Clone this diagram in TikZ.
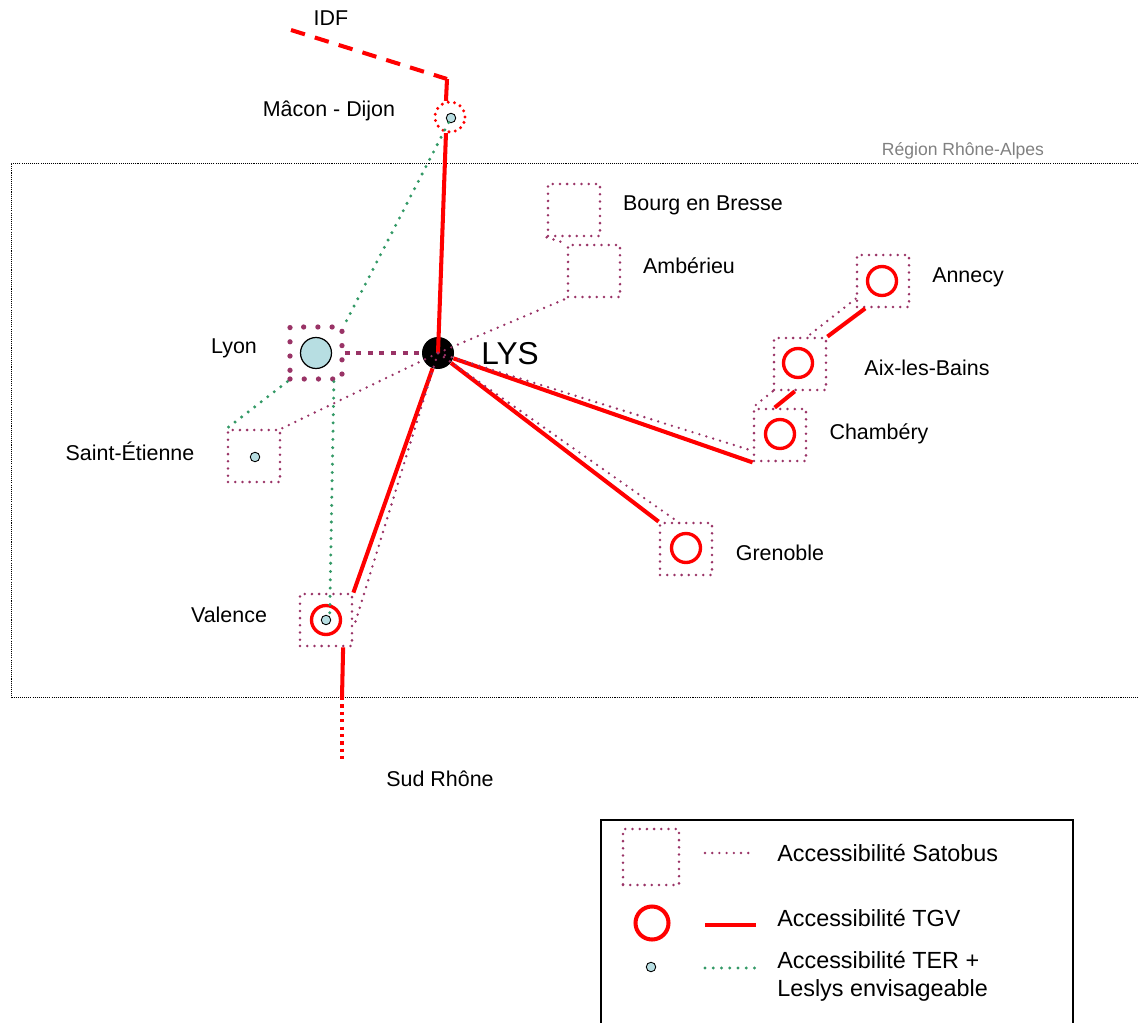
\documentclass[tikz,border=0pt]{standalone}
\usepackage{fontspec}
\setmainfont{Liberation Sans}
\usepackage{tikz}

\definecolor{satplum}{HTML}{993366}
\definecolor{tergreen}{HTML}{339966}
\definecolor{terblue}{RGB}{183,222,226}

\tikzset{
  satbox/.style={rectangle, draw=satplum, line width=1.6pt, dash pattern=on 0pt off 4.1pt, line cap=round, minimum size=1.04cm, inner sep=0pt},
  lyonbox/.style={rectangle, draw=satplum, line width=3pt, dash pattern=on 0pt off 8.1pt, line cap=round, minimum size=1.04cm, inner sep=0pt},
  tgvring/.style={circle, draw=red, line width=1.9pt, minimum size=0.58cm, inner sep=0pt},
  terdot/.style={circle, draw=black, line width=0.5pt, fill=terblue, minimum size=0.19cm, inner sep=0pt},
  satline/.style={draw=satplum, line width=1.5pt, dash pattern=on 0pt off 4.1pt, line cap=round},
  tgvline/.style={draw=red, line width=2.3pt},
  terline/.style={draw=tergreen, line width=1.9pt, dash pattern=on 0pt off 4.7pt, line cap=round},
  citylabel/.style={font=\fontsize{12.2}{14}\selectfont},
  legtext/.style={font=\fontsize{13.3}{15.9}\selectfont, anchor=west, align=left, inner sep=0pt}
}

\begin{document}
\begin{tikzpicture}[x=0.02cm, y=-0.02cm]
        \useasboundingbox (0,0) rectangle (1138,1023);

        % Region frame
        \draw[line width=0.5pt, dash pattern=on 0.6pt off 0.6pt] (1140,163) -| (11,697) -- (1140,697);
        \node[text=gray, font=\fontsize{10}{12}\selectfont] (region) at (963,151) {Région Rhône-Alpes};

        % Stations (Satobus boxes)
        \node[satbox] (boubox) at (574,210) {};
        \node[satbox] (ambbox) at (594,271) {};
        \node[satbox] (annbox) at (883,281) {};
        \node[satbox] (aixbox) at (800,364) {};
        \node[satbox] (chabox) at (780,435) {};
        \node[satbox] (grebox) at (686,549) {};
        \node[satbox] (stebox) at (254,456) {};
        \node[satbox] (valbox) at (326,620) {};
        \node[lyonbox] (lyonbox) at (316,353) {};

        % TGV rings
        \node[tgvring] (annring) at (882,281) {};
        \node[tgvring] (aixring) at (798,363) {};
        \node[tgvring] (charing) at (780,434) {};
        \node[tgvring] (grering) at (686,548) {};
        \node[tgvring] (valring) at (326,620) {};
        \node[circle, draw=red, line width=1.9pt, dash pattern=on 0pt off 3.6pt, line cap=round,
              minimum size=0.6cm, inner sep=0pt] (mac) at (450,117) {};

        % TER dots
        \node[terdot] (macdot) at (451,118) {};
        \node[terdot] (stedot) at (255,457) {};
        \node[terdot] (valdot) at (326,620) {};
        \node[circle, draw=black, line width=0.7pt, fill=terblue, minimum size=0.62cm, inner sep=0pt] (lyon) at (316,353) {};

        % Airport
        \node[circle, fill=black, minimum size=0.64cm, inner sep=0pt] (lys) at (438,353) {};

        % TGV lines
        \coordinate (idf) at (291,30);
        \coordinate (idfbend) at (447,79);
        \coordinate (sudA) at (342,697);
        \coordinate (sudB) at (342,760);
        \draw[tgvline, dash pattern=on 8.3pt off 5.9pt] (idf) -- (idfbend);
        \draw[tgvline] (idfbend) -- (mac.104);
        \draw[tgvline] (mac.-104) -- (lys.center);
        \draw[tgvline] (lys) -- (chabox.south west);
        \draw[tgvline] (lys) -- (grebox.north west);
        \draw[tgvline] (lys) -- (valbox.north east);
        \draw[tgvline] (valbox.-58) -- (sudA);
        \draw[tgvline, dash pattern=on 1.9pt off 2.3pt] (sudA) -- (sudB);
        \draw[tgvline] (annbox.-123) -- (aixbox.north east);
        \draw[tgvline] (aixbox.-101) -- (chabox.101);

        % Satobus lines
        \draw[satline, line width=2.8pt, dash pattern=on 2.8pt off 3.8pt, line cap=butt] (lyonbox.east) -- (lys.west);
        \draw[satline] (lys.center) -- (ambbox.south west);
        \draw[satline] (boubox.south west) -- (ambbox.north west);
        \draw[satline] (lys.center) -- (stebox.north east);
        \draw[satline] (lys.center) -- (chabox.210);
        \draw[satline] (lys.center) -- (grebox.107);
        \draw[satline] (lys.center) -- (valbox.-17);
        \draw[satline] (annbox.-147) -- (aixbox.75);
        \draw[satline] (aixbox.south west) -- (chabox.north west);

        % TER lines
        \draw[terline] (macdot) -- (lyonbox.north east);
        \draw[terline] (lyonbox.south west) -- (stebox.north west);
        \draw[terline] (lyonbox.-58) -- (valdot.north east);

        % Labels
        \node[citylabel] (idflabel) at (331,18) {IDF};
        \node[citylabel] (maclabel) at (329,111) {Mâcon - Dijon};
        \node[citylabel] (boulabel) at (703,205) {Bourg en Bresse};
        \node[citylabel] (amblabel) at (689,266) {Ambérieu};
        \node[citylabel] (annlabel) at (968,277) {Annecy};
        \node[font=\fontsize{18}{20}\selectfont] (lyslabel) at (510,354) {LYS};
        \node[citylabel] (lyonlabel) at (234,348) {Lyon};
        \node[citylabel] (aixlabel) at (927,368) {Aix-les-Bains};
        \node[citylabel] (chalabel) at (879,434) {Chambéry};
        \node[citylabel] (stelabel) at (130,451) {Saint-Étienne};
        \node[citylabel] (grelabel) at (780,553) {Grenoble};
        \node[citylabel] (vallabel) at (229,615) {Valence};
        \node[citylabel] (sudlabel) at (440,779) {Sud Rhône};

        % Legend
        \draw[line width=0.6pt] (601,1030) |- (1073,820) -- (1073,1030);
        \node[satbox, minimum size=1.12cm] (legsat) at (651,857) {};
        \coordinate (legsatA) at (705,853);
        \coordinate (legsatB) at (754,853);
        \draw[satline] (legsatA) -- (legsatB);
        \node[legtext] (legsattxt) at (777,853) {Accessibilité Satobus};

        \node[tgvring, minimum size=0.66cm, line width=2.3pt] (legtgv) at (652,923) {};
        \coordinate (legtgvA) at (705,925);
        \coordinate (legtgvB) at (756,925);
        \draw[tgvline] (legtgvA) -- (legtgvB);
        \node[legtext] (legtgvtxt) at (777,918) {Accessibilité TGV};

        \node[terdot] (legter) at (651,967) {};
        \coordinate (legterA) at (705,968);
        \coordinate (legterB) at (758,968);
        \draw[terline] (legterA) -- (legterB);
        \node[legtext] (legtertxt) at (777,976) {Accessibilité TER +\\Leslys envisageable};
    \end{tikzpicture}
\end{document}
